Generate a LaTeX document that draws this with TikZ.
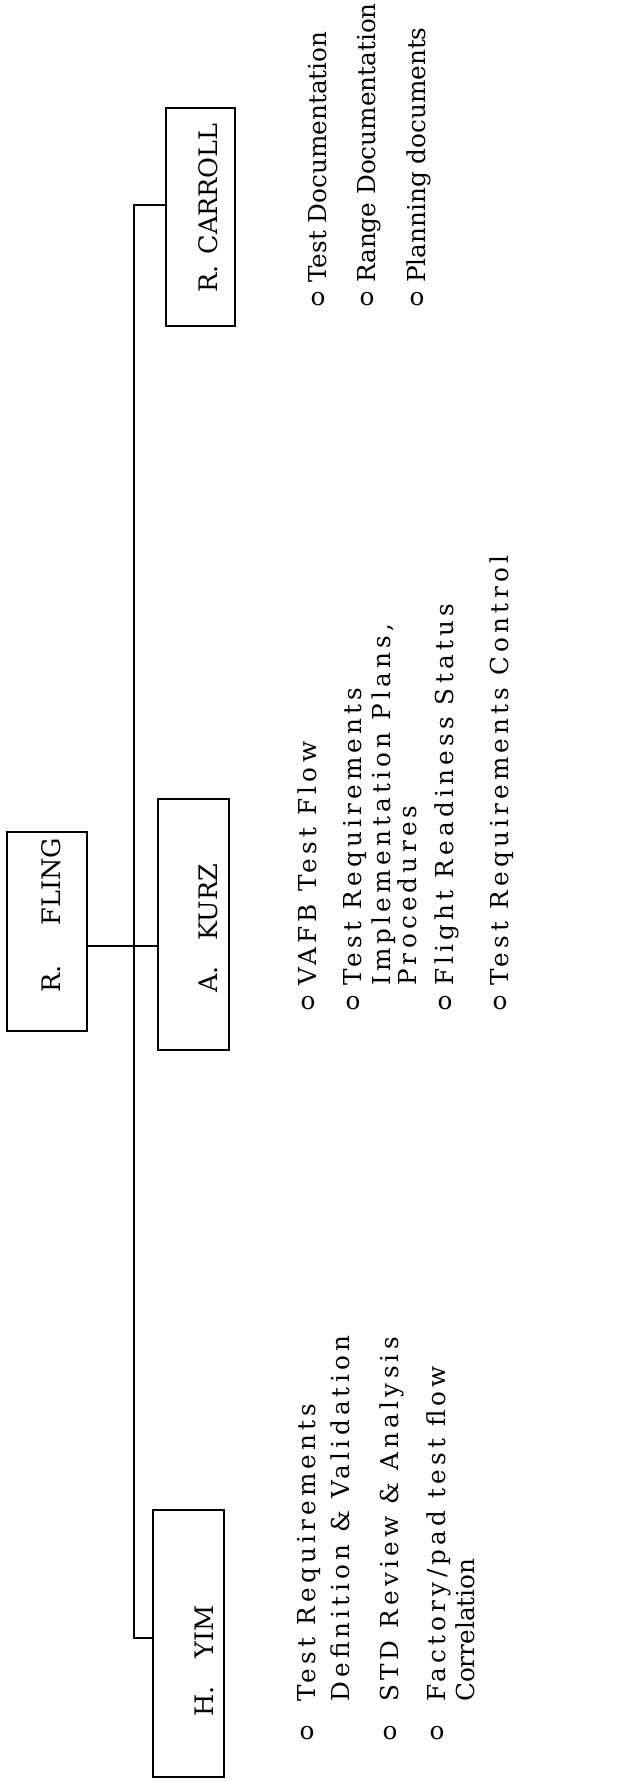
\documentclass[tikz,border=0pt]{standalone}
\usepackage{fontspec}
\setmainfont{DejaVu Serif}
\newfontfamily\spacedfont[LetterSpace=17]{DejaVu Serif}
\newfontfamily\tightfont{DejaVu Serif}
\begin{document}
\begin{tikzpicture}[x=1pt,y=-1pt,
  box/.style={draw, line width=1.6pt, inner sep=0pt},
  lab/.style={rotate=90, anchor=base west, inner sep=0pt, font=\tightfont\fontsize{25.5}{30}\selectfont},
  itm/.style={rotate=90, anchor=base west, inner sep=0pt, font=\spacedfont\fontsize{24.7}{28}\selectfont},
  itmc/.style={rotate=90, anchor=base west, inner sep=0pt, font=\tightfont\fontsize{24.7}{28}\selectfont},
  bul/.style={inner sep=0pt, font=\tightfont\fontsize{24.7}{28}\selectfont},
  conn/.style={line width=1.6pt}]
\fill[white] (0,0) rectangle (621,1781);
\useasboundingbox (0,0) rectangle (621,1781);

% boxes
\node[box, minimum width=69pt, minimum height=218pt] (carroll) at (200.5,217) {};
\node[box, minimum width=80pt, minimum height=199pt] (fling) at (47,931.5) {};
\node[box, minimum width=71pt, minimum height=251pt] (kurz) at (193.5,924.5) {};
\node[box, minimum width=71pt, minimum height=267pt] (yim) at (188.5,1643.5) {};

% box labels
\node[lab] (carrollL) at (217,293) {R.\hspace{11pt}CARROLL};
\node[lab] (flingL) at (60,993) {R.\hspace{40pt}FLING};
\node[lab] (kurzL) at (217,993) {A.\hspace{26pt}KURZ};
\node[lab] (yimL) at (213,1717) {H.\hspace{28pt}YIM};

% connectors
\coordinate (sTop) at (134,205);
\coordinate (sMid) at (134,946);
\coordinate (sBot) at (134,1638);
\draw[conn] (carroll.west |- sTop) -- (sTop) -- (sBot) -- (yim.west |- sBot);
\draw[conn] (fling.east |- sMid) -- (kurz.west |- sMid);

% YIM items
\node[bul] (yb1) at (307,1733) {o};
\node[itm] (yt1) at (315,1702) {Test Requirements};
\node[itm] (yt1b) at (349,1702) {Definition \& Validation};
\node[bul] (yb2) at (390,1733) {o};
\node[itm] (yt2) at (398,1702) {STD Review \& Analysis};
\node[bul] (yb3) at (437,1733) {o};
\node[itm] (yt3) at (445,1702) {Factory/pad test flow};
\node[itmc] (yt3b) at (474,1702) {Correlation};

% KURZ items
\node[bul] (kb1) at (308,1003) {o};
\node[itm] (kt1) at (316,986) {VAFB Test Flow};
\node[bul] (kb2) at (353,1003) {o};
\node[itm] (kt2) at (361,986) {Test Requirements};
\node[itm] (kt2b) at (390,986) {Implementation Plans,};
\node[itm] (kt2c) at (416,986) {Procedures};
\node[bul] (kb3) at (445,1003) {o};
\node[itm] (kt3) at (453,986) {Flight Readiness Status};
\node[bul] (kb4) at (500,1003) {o};
\node[itm] (kt4) at (508,986) {Test Requirements Control};

% CARROLL items
\node[bul] (cb1) at (318,299) {o};
\node[itmc] (ct1) at (326,283) {Test Documentation};
\node[bul] (cb2) at (367,299) {o};
\node[itmc] (ct2) at (375,283) {Range Documentation};
\node[bul] (cb3) at (417,299) {o};
\node[itmc] (ct3) at (425,283) {Planning documents};
\end{tikzpicture}
\end{document}
